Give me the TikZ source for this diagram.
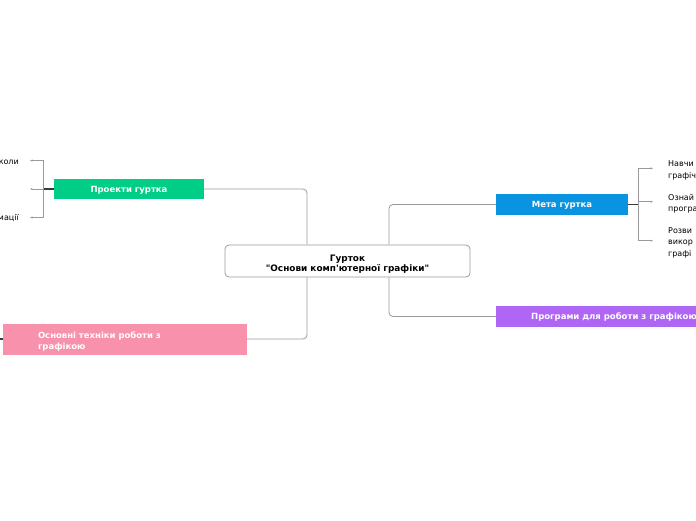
\documentclass[tikz,border=0pt]{standalone}
\usepackage{fontspec}
\newfontfamily\dvfont{DejaVu Sans}
\usetikzlibrary{arrows.meta}
\definecolor{zelenyi}{HTML}{00CE86}
\definecolor{synii}{HTML}{0A93E0}
\definecolor{rozhevyi}{HTML}{F891AB}
\definecolor{fioletovyi}{HTML}{B066F5}
\definecolor{liniia}{HTML}{9A9A9A}
\definecolor{temna}{HTML}{3A3A3A}
\tikzset{
  tema/.style={text=white, font=\dvfont\fontsize{8.5}{11}\selectfont\bfseries, inner sep=0pt},
  wire/.style={draw=liniia, line width=0.8pt, rounded corners=4pt},
  stub/.style={draw=temna, line width=1.2pt},
  branch/.style={draw=liniia, line width=0.7pt, -{Stealth[length=2.5pt,width=2pt]}},
  leaf/.style={font=\dvfont\fontsize{8}{11.2}\selectfont, text=black, align=left, inner ysep=0pt}
}
\begin{document}
\begin{tikzpicture}[x=1pt, y=-1pt]
                \useasboundingbox (0,0) rectangle (696,520);
                % Central node:
                \node[draw=liniia, line width=0.8pt, rounded corners=4pt, minimum width=245pt, minimum height=32pt,
                      align=center, inner sep=0pt, font=\dvfont\fontsize{8.9}{10.5}\selectfont\bfseries] (gurtok) at (347.5,261) {\rule{0pt}{12.5pt}Гурток\\"Основи комп'ютерної графіки"};
                % Topics:
                \node[tema, fill=zelenyi, minimum width=150pt, minimum height=20pt] (proekty) at (129,189) {\rule{0pt}{8pt}Проекти гуртка};
                \node[tema, fill=synii, minimum width=132pt, minimum height=21pt] (meta) at (562,204.5) {\rule{0pt}{8.5pt}Мета гуртка};
                \node[tema, fill=rozhevyi, minimum width=244pt, minimum height=31pt, inner xsep=35pt, text width=174pt, align=left] (tekhniky) at (125,339) {\rule{0pt}{12pt}Основні техніки роботи з\\графікою};
                \node[tema, fill=fioletovyi, minimum height=21pt, inner xsep=35pt, anchor=west] (programy) at (496,316.5) {\rule{0pt}{8.5pt}Програми для роботи з графікою};
                % Wires from the centre:
                \draw[wire] (gurtok.north -| 307,0) |- (proekty.east);
                \draw[wire] (gurtok.north -| 389,0) |- (meta.west);
                \draw[wire] (gurtok.south -| 307,0) |- (tekhniky.east);
                \draw[wire] (gurtok.south -| 389,0) |- (programy.west);
                % Left subtopics:
                \coordinate (P0) at (43,189);
                \coordinate (P2) at (30,189);
                \node[leaf, anchor=east, inner xsep=11pt] (P1) at (30,160.5) {\rule{0pt}{8pt}коли};
                \node[leaf, anchor=east, inner xsep=11pt] (P3) at (30,217.5) {\rule{0pt}{8pt}мації};
                \draw[stub] (proekty.west) -- (P0);
                \draw[branch] (P0) |- (P1);
                \draw[branch] (P0) -- (P2);
                \draw[branch] (P0) |- (P3);
                % Right subtopics:
                \coordinate (M0) at (638,204.5);
                \node[leaf, anchor=west, inner xsep=15pt] (M1) at (653,168.3) {\rule{0pt}{10pt}Навчи\\графіч};
                \node[leaf, anchor=west, inner xsep=15pt] (M2) at (653,201.7) {\rule{0pt}{10pt}Ознай\\програ};
                \node[leaf, anchor=west, inner xsep=15pt] (M3) at (653,240.7) {\rule{0pt}{10pt}Розви\\викор\\графі};
                \draw[stub] (meta.east) -- (M0);
                \draw[branch] (M0) |- (M1);
                \draw[branch] (M0) |- (M2);
                \draw[branch] (M0) |- (M3);
                % Stub left of the pink topic:
                \coordinate (T0) at (0,339);
                \draw[stub] (tekhniky.west) -- (T0);
            \end{tikzpicture}
\end{document}
